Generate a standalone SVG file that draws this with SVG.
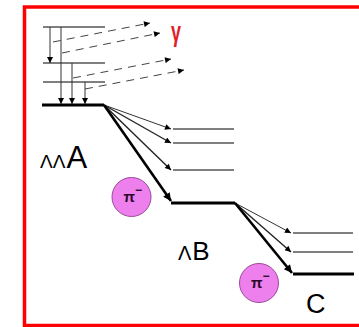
<svg xmlns="http://www.w3.org/2000/svg" width="359" height="327" viewBox="0 0 359 327">
<style>
.frame{fill:none;stroke:#ff0000;stroke-width:3.5}
.lvl{stroke:#555;stroke-width:1.5;fill:none}
.gnd{stroke:#000;stroke-width:3;fill:none}
.thin{stroke:#333;stroke-width:1;fill:none}
.mid{stroke:#222;stroke-width:1.4;fill:none}
.thick{stroke:#000;stroke-width:2.6;fill:none}
.dash{stroke:#444;stroke-width:1;fill:none;stroke-dasharray:8 6}
.lab{font-family:"Liberation Sans",Arial,sans-serif;fill:#000}
.pi{fill:#ee80ee;stroke:#9a4a9a;stroke-width:1}
.pit{font-family:"Liberation Sans",Arial,sans-serif;font-size:15px;font-weight:bold;fill:#2a0a2a}
</style>
<defs>
<marker id="ah" viewBox="0 0 10 10" refX="10" refY="5" markerWidth="9" markerHeight="6" markerUnits="userSpaceOnUse" orient="auto"><path d="M0,0L10,5L0,10z" fill="#000"/></marker>
<marker id="ahb" viewBox="0 0 10 10" refX="10" refY="5" markerWidth="11" markerHeight="8" markerUnits="userSpaceOnUse" orient="auto"><path d="M0,0L10,5L0,10z" fill="#000"/></marker>
</defs>
<rect class="frame" x="24.5" y="7" width="345" height="318.5"/>
<g id="gamma-levels">
<line class="lvl" x1="43" y1="27" x2="105" y2="27"/>
<line class="lvl" x1="43" y1="63" x2="105" y2="63"/>
<line class="lvl" x1="43" y1="82" x2="105" y2="82"/>
</g>
<g id="level-LLA">
<line class="gnd" x1="42" y1="105" x2="104" y2="105"/>
<text class="lab" x="40" y="168"><tspan font-size="19">ΛΛ</tspan><tspan font-size="31" dx="1">A</tspan></text>
</g>
<g id="levels-LB-excited">
<line class="lvl" x1="173" y1="129" x2="234" y2="129"/>
<line class="lvl" x1="173" y1="143" x2="234" y2="143"/>
<line class="lvl" x1="173" y1="170" x2="234" y2="170"/>
</g>
<g id="level-LB">
<line class="gnd" x1="171" y1="203" x2="235" y2="203"/>
<text class="lab" x="178" y="260"><tspan font-size="20">Λ</tspan><tspan font-size="26" dx="1">B</tspan></text>
</g>
<g id="levels-C-excited">
<line class="lvl" x1="293" y1="233" x2="353" y2="233"/>
<line class="lvl" x1="293" y1="252" x2="353" y2="252"/>
</g>
<g id="level-C">
<line class="gnd" x1="293" y1="274" x2="354" y2="274"/>
<text class="lab" x="306" y="313" font-size="27">C</text>
</g>
<g id="gamma">
<text x="171" y="41" font-family="Liberation Sans, Arial, sans-serif" font-size="27" font-weight="bold" fill="#e0202a" textLength="10" lengthAdjust="spacingAndGlyphs">γ</text>
</g>
<g id="pion1">
<circle class="pi" cx="131.5" cy="197" r="19.5"/>
<text class="pit" x="123.5" y="202">π<tspan font-size="12" dy="-8">−</tspan></text>
</g>
<g id="pion2">
<circle class="pi" cx="259" cy="283" r="19.5"/>
<text class="pit" x="251" y="288">π<tspan font-size="12" dy="-8">−</tspan></text>
</g>
<g id="connectors">
<line class="thin" x1="50" y1="27" x2="50" y2="63" marker-end="url(#ah)"/>
<line class="thin" x1="61" y1="27" x2="61" y2="104" marker-end="url(#ah)"/>
<line class="thin" x1="72" y1="63" x2="72" y2="104" marker-end="url(#ah)"/>
<line class="thin" x1="85" y1="82" x2="85" y2="104" marker-end="url(#ah)"/>
<line class="dash" x1="53" y1="42" x2="150" y2="23" marker-end="url(#ah)"/>
<line class="dash" x1="62" y1="53" x2="160" y2="33" marker-end="url(#ah)"/>
<line class="dash" x1="73" y1="78" x2="171" y2="59" marker-end="url(#ah)"/>
<line class="dash" x1="85" y1="89" x2="184" y2="70" marker-end="url(#ah)"/>
<line class="thin" x1="104" y1="105" x2="171" y2="129" marker-end="url(#ah)"/>
<line class="mid" x1="104" y1="105" x2="171" y2="143" marker-end="url(#ah)"/>
<line class="mid" x1="104" y1="105" x2="171" y2="170" marker-end="url(#ah)"/>
<line class="thick" x1="104" y1="105" x2="171" y2="201" marker-end="url(#ahb)"/>
<line class="thin" x1="235" y1="203" x2="291" y2="233" marker-end="url(#ah)"/>
<line class="mid" x1="235" y1="203" x2="291" y2="252" marker-end="url(#ah)"/>
<line class="thick" x1="235" y1="203" x2="292" y2="273" marker-end="url(#ahb)"/>
</g>
</svg>
